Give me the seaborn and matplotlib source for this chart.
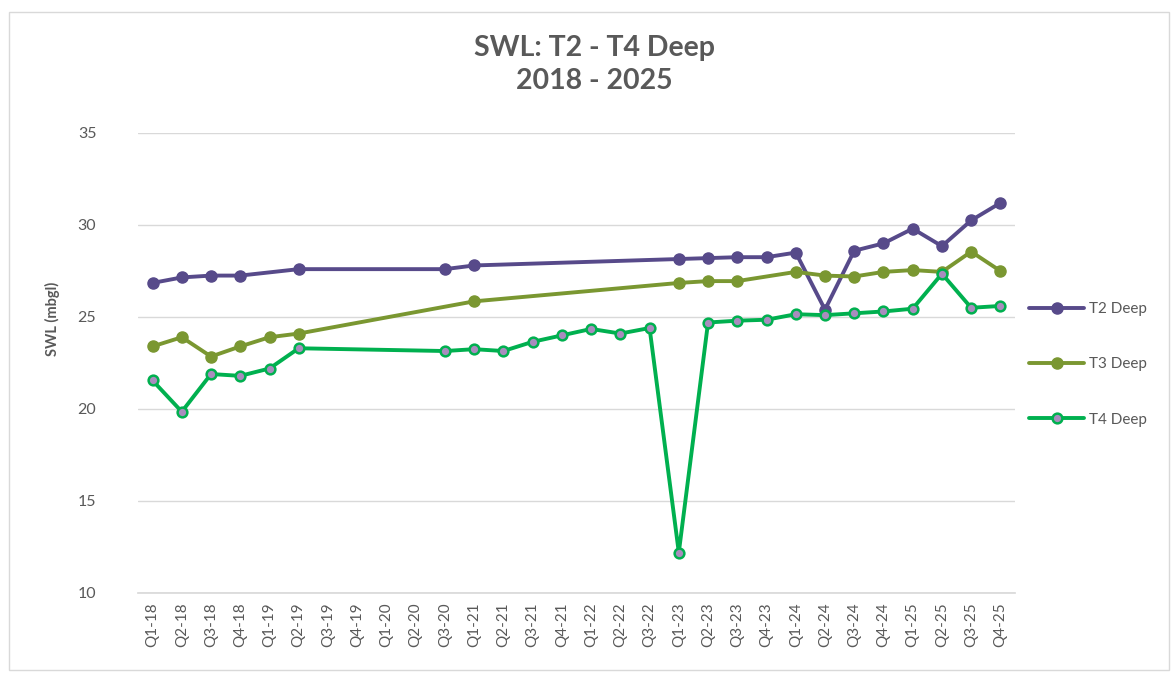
import numpy as np
import pandas as pd
import matplotlib
matplotlib.use("Agg")
import matplotlib.pyplot as plt
import seaborn as sns
from matplotlib.patches import Rectangle

quarters = ["Q1-18", "Q2-18", "Q3-18", "Q4-18", "Q1-19", "Q2-19", "Q3-19", "Q4-19",
            "Q1-20", "Q2-20", "Q3-20", "Q1-21", "Q2-21", "Q3-21", "Q4-21", "Q1-22",
            "Q2-22", "Q3-22", "Q1-23", "Q2-23", "Q3-23", "Q4-23", "Q1-24", "Q2-24",
            "Q3-24", "Q4-24", "Q1-25", "Q2-25", "Q3-25", "Q4-25"]
nan = np.nan
t2_deep = [26.85, 27.15, 27.25, 27.25, nan, 27.6, nan, nan, nan, nan, 27.6, 27.8,
           nan, nan, nan, nan, nan, nan, 28.15, 28.2, 28.25, 28.25, 28.5, 25.4,
           28.6, 29.0, 29.8, 28.85, 30.25, 31.2]
t3_deep = [23.4, 23.9, 22.85, 23.4, 23.9, 24.1, nan, nan, nan, nan, nan, 25.85,
           nan, nan, nan, nan, nan, nan, 26.85, 26.95, 26.95, nan, 27.45, 27.25,
           27.2, 27.45, 27.55, 27.45, 28.55, 27.5]
t4_deep = [21.55, 19.85, 21.9, 21.8, 22.2, 23.3, nan, nan, nan, nan, 23.15, 23.25,
           23.15, 23.65, 24.0, 24.35, 24.1, 24.4, 12.2, 24.7, 24.8, 24.85, 25.15, 25.1,
           25.2, 25.3, 25.45, 27.35, 25.5, 25.6]
series_names = ["T2 Deep", "T3 Deep", "T4 Deep"]

sns.set_theme(style="white")
plt.rcParams["font.family"] = ["Lato", "DejaVu Sans"]
txt = "#595959"

fig = plt.figure(figsize=(11.71, 6.73), dpi=100)
ax = fig.add_axes([0.1178, 0.1189, 0.7490, 0.6835])

styles = {
    "T2 Deep": dict(color="#574A8A", mfc="#574A8A", mec="#574A8A", ms=8, mew=1.0),
    "T3 Deep": dict(color="#7A9731", mfc="#7A9731", mec="#7A9731", ms=8, mew=1.0),
    "T4 Deep": dict(color="#00B04F", mfc="#A98CBE", mec="#00B04F", ms=7, mew=1.8),
}

for name, vals in zip(series_names, [t2_deep, t3_deep, t4_deep]):
    df = pd.DataFrame({"x": np.arange(len(quarters)), "y": vals}).dropna()
    st = styles[name]
    sns.lineplot(data=df, x="x", y="y", ax=ax, color=st["color"], linewidth=2.8,
                 marker="o", markersize=st["ms"], markerfacecolor=st["mfc"],
                 markeredgecolor=st["mec"], markeredgewidth=st["mew"], label=name)

ax.set_xlim(-0.5, len(quarters) - 0.5)
ax.set_ylim(10, 35)
ax.set_yticks([10, 15, 20, 25, 30, 35])
ax.set_xticks(np.arange(len(quarters)))
ax.set_xticklabels(quarters, rotation=90, fontsize=11, color=txt)
ax.tick_params(axis="y", labelsize=11.5, colors=txt, pad=30, length=0)
ax.tick_params(axis="x", length=0, pad=7)
ax.grid(axis="y", color="#D9D9D9", linewidth=1.0)
ax.set_axisbelow(True)
for s in ["top", "right", "left"]:
    ax.spines[s].set_visible(False)
ax.spines["bottom"].set_color("#D9D9D9")
ax.set_xlabel("")
ax.set_ylabel("SWL (mbgl)", fontsize=10.5, fontweight="bold", color=txt)
ax.yaxis.set_label_coords(-0.089, 0.595)

leg = ax.legend(loc="upper left", bbox_to_anchor=(0.997, 0.669), frameon=False,
                fontsize=11, labelspacing=2.7, handlelength=3.6, handletextpad=0.3,
                borderaxespad=0.7)
for t in leg.get_texts():
    t.set_color(txt)

fig.text(0.5075, 0.929, "SWL: T2 - T4 Deep", ha="center", va="center",
         fontsize=20.5, fontweight="bold", color=txt)
fig.text(0.5075, 0.880, "2018 - 2025", ha="center", va="center",
         fontsize=20.5, fontweight="bold", color=txt)

fig.patches.append(Rectangle((0.008, 0.004), 0.99, 0.978, transform=fig.transFigure,
                             fill=False, edgecolor="#D9D9D9", linewidth=1.0))

fig.savefig("out.png", dpi=100)
